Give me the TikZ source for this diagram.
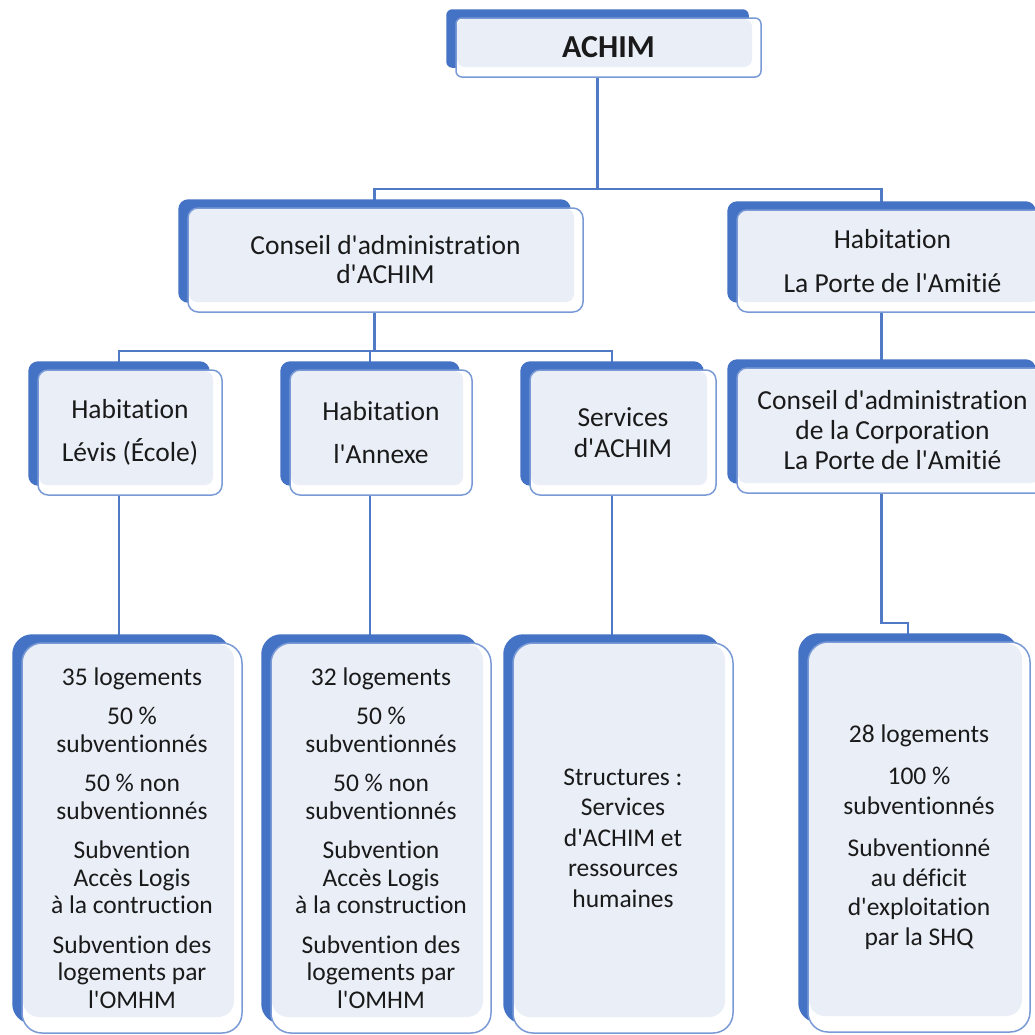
\documentclass[tikz,border=0pt]{standalone}
\usepackage{fontspec}
\setmainfont{Carlito}[Ligatures={TeXOff,NoCommon}]
\usetikzlibrary{calc}
\definecolor{shadowblue}{HTML}{4472C4}
\definecolor{linkblue}{HTML}{5079C6}
\definecolor{edgeblue}{HTML}{7A9AD6}
\definecolor{innerfill}{HTML}{E9EEF7}
\definecolor{txt}{HTML}{1A1A1A}
\pgfdeclarelayer{lines}
\pgfdeclarelayer{shadowlayer}
\pgfsetlayers{lines,shadowlayer,main}
\begin{document}
\begin{tikzpicture}[x=1pt,y=-1pt,
  boxbase/.style={draw=edgeblue, line width=1.5pt, fill=white, inner sep=0pt, align=center, text=txt},
  upbox/.style={boxbase, rounded corners=10pt, font=\fontsize{27.5}{29.5}\selectfont,
     path picture={\fill[innerfill, rounded corners=8pt] ([shift={(1,1)}]path picture bounding box.north west) rectangle ([shift={(-9,-10)}]path picture bounding box.south east);}},
  lowbox/.style={boxbase, rounded corners=20pt, minimum width=220, minimum height=390, font=\fontsize{25.5}{27.5}\selectfont,
     path picture={\fill[innerfill, rounded corners=16pt] ([shift={(1,1)}]path picture bounding box.north west) rectangle ([shift={(-8,-16)}]path picture bounding box.south east);}},
  link/.style={draw=linkblue, line width=2.2pt}
]
\useasboundingbox (0,0) rectangle (1035,1034);
\clip (0,0) rectangle (1035,1034);
\begin{pgfonlayer}{lines}
\fill[white] (0,0) rectangle (1035,1034);
\end{pgfonlayer}

% upper boxes
\node[upbox, rounded corners=6pt, minimum width=305, minimum height=59, font=\fontsize{32}{36}\selectfont\bfseries] (achim) at (608.5,47.5) {ACHIM};
\node[upbox, minimum width=395, minimum height=104, font=\fontsize{27.5}{29}\selectfont] (conseil) at (385.5,260) {Conseil d'administration\\d'ACHIM};
\node[upbox, minimum width=311, minimum height=102] (laporte) at (892.5,261) {Habitation\\[14pt]La Porte de l'Amitié};
\node[upbox, minimum width=184, minimum height=125] (levis) at (130,432.5) {Habitation\\[13pt]Lévis (École)};
\node[upbox, minimum width=182, minimum height=125] (annexe) at (381,432.5) {Habitation\\[13pt]l'Annexe};
\node[upbox, minimum width=186, minimum height=125, font=\fontsize{27.5}{31}\selectfont] (services) at (623,432.5) {Services\\d'ACHIM};
\node[upbox, minimum width=311, minimum height=125, font=\fontsize{27.5}{30}\selectfont] (corp) at (892.5,430.5) {Conseil d'administration\\de la Corporation\\La Porte de l'Amitié};

% lower boxes
\node[lowbox] (b1) at (132,838) {35 logements\\[12pt]50 \%\\subventionnés\\[12pt]50 \% non\\subventionnés\\[12pt]Subvention\\Accès Logis\\à la contruction\\[12pt]Subvention des\\logements par\\l'OMHM};
\node[lowbox] (b2) at (381,838) {32 logements\\[12pt]50 \%\\subventionnés\\[12pt]50 \% non\\subventionnés\\[12pt]Subvention\\Accès Logis\\à la construction\\[12pt]Subvention des\\logements par\\l'OMHM};
\node[lowbox, font=\fontsize{25.5}{30.5}\selectfont] (b3) at (623,838) {Structures :\\Services\\d'ACHIM et\\ressources\\humaines};
\node[lowbox, minimum width=222, font=\fontsize{25.5}{29.5}\selectfont] (b4) at (919,837) {28 logements\\[13pt]100 \%\\subventionnés\\[13pt]Subventionné\\au déficit\\d'exploitation\\par la SHQ};

% shadows
\begin{pgfonlayer}{shadowlayer}
\foreach \n/\r in {achim/6,conseil/10,laporte/10,levis/10,annexe/10,services/10,corp/10,b1/20,b2/20,b3/20,b4/20}
  \fill[shadowblue, rounded corners=\r pt] ([shift={(-9,-8)}]\n.north west) rectangle ([shift={(-13,-10)}]\n.south east);
\end{pgfonlayer}

% connectors
\foreach \n in {achim,conseil,laporte,levis,annexe,services,corp,b1,b2,b3,b4}{
  \coordinate (\n T) at ([xshift=-11pt]\n.north);
  \coordinate (\n B) at ([xshift=-11pt]\n.south);
}
\begin{pgfonlayer}{lines}
\draw[link] (achimB) -- ++(0,111) coordinate (j1);
\draw[link] (j1) -| (conseilT);
\draw[link] (j1) -| (laporteT);
\draw[link] (conseilB) -- ++(0,38) coordinate (j2);
\draw[link] (j2) -| (levisT);
\draw[link] (j2) -| (annexeT);
\draw[link] (j2) -| (servicesT);
\draw[link] (levisB) -- (levisB |- b1.north);
\draw[link] (annexeB) -- (annexeB |- b2.north);
\draw[link] (servicesB) -- (servicesB |- b3.north);
\draw[link] (laporteB) -- (corpT);
\draw[link] (corpB) -- ++(0,129) -| (b4T);
\end{pgfonlayer}
\end{tikzpicture}
\end{document}
